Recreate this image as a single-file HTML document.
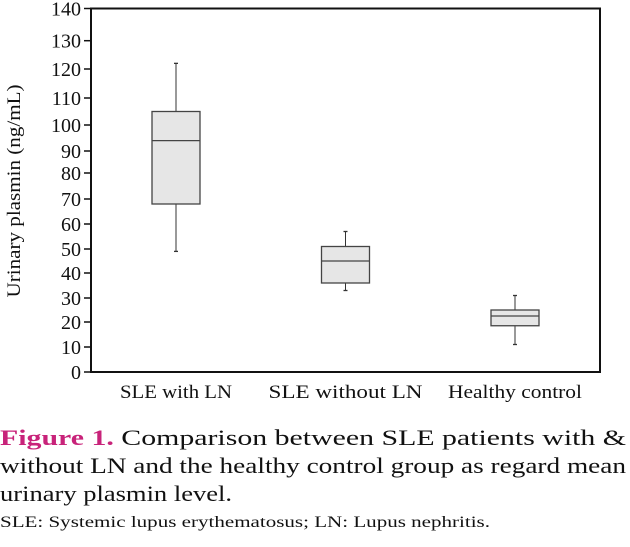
<!DOCTYPE html>
<html><head><meta charset="utf-8"><style>
body{margin:0;width:630px;height:547px;background:#fff;overflow:hidden;font-family:"Liberation Serif",serif;}
.ln{position:absolute;left:0;white-space:nowrap;color:#111;transform-origin:0 0;}
.cap{font-size:22px;}
.cap b{color:#c8237a;}
#foot{font-size:16px;}
</style></head><body>
<svg id="chart" width="630" height="410" style="position:absolute;left:0;top:0" font-family="Liberation Serif, serif"></svg>
<div class="ln cap" data-w="626" style="top:425px"><b>Figure 1.</b> Comparison between SLE patients with &amp;</div>
<div class="ln cap" data-w="626" style="top:453px">without LN and the healthy control group as regard mean</div>
<div class="ln cap" data-w="232" style="top:481px">urinary plasmin level.</div>
<div class="ln" id="foot" data-w="490" style="top:514px">SLE: Systemic lupus erythematosus; LN: Lupus nephritis.</div>
<script>
const categories=["SLE with LN","SLE without LN","Healthy control"];
const whiskerMax=[122,57,31];
const q3=[105,51,25];
const median=[94,45,22.5];
const q1=[68,36,18.5];
const whiskerMin=[49,33,11];
const tickLabels=[0,10,20,30,40,50,60,70,80,90,100,110,120,130,140];
// axis calibration (the source image has a non-uniform vertical scale)
const calV=[0,10,20,30,40,50,60,70,80,90,100,110,120,130,140];
const calY=[372,347,322,298,273,249,224,199,173,151,125,98,69,40.7,8.5];
function y(v){for(let i=0;i<calV.length-1;i++){if(v<=calV[i+1]){const t=(v-calV[i])/(calV[i+1]-calV[i]);return calY[i]+t*(calY[i+1]-calY[i]);}}return calY[calY.length-1];}
const L=91,R=600;
function x(i){return 176+i*169.5;}
const labW=[112,154,134];
const NS="http://www.w3.org/2000/svg",svg=document.getElementById('chart');
function el(t,a,p){const e=document.createElementNS(NS,t);for(const k in a)e.setAttribute(k,a[k]);(p||svg).appendChild(e);return e;}
const fr=el('rect',{x:L,y:y(140),width:R-L,height:y(0)-y(140),fill:'none',stroke:'#111','stroke-width':2});


tickLabels.forEach(v=>{
 const tk=el('line',{x1:L-7,x2:L,y1:y(v),y2:y(v),stroke:'#111','stroke-width':1.5});
 
 
 const t=el('text',{x:L-10,y:y(v)+7,'text-anchor':'end','font-size':20,fill:'#111'});
 t.textContent=v;
 
 
});
const yt=el('text',{x:0,y:0,transform:'translate(20,191) rotate(-90)','text-anchor':'middle','font-size':19,fill:'#111',textLength:213,lengthAdjust:'spacingAndGlyphs'});
yt.textContent='Urinary plasmin (ng/mL)';


categories.forEach((c,i)=>{
 const cx=x(i),hw=24;
 const g=el('g',{});
 
 
 el('line',{x1:cx,x2:cx,y1:y(whiskerMax[i]),y2:y(q3[i]),stroke:'#333','stroke-width':1},g);
 el('line',{x1:cx,x2:cx,y1:y(q1[i]),y2:y(whiskerMin[i]),stroke:'#333','stroke-width':1},g);
 el('line',{x1:cx-2,x2:cx+2,y1:y(whiskerMax[i]),y2:y(whiskerMax[i]),stroke:'#333','stroke-width':1.3},g);
 el('line',{x1:cx-2,x2:cx+2,y1:y(whiskerMin[i]),y2:y(whiskerMin[i]),stroke:'#333','stroke-width':1.3},g);
 el('rect',{x:cx-hw,y:y(q3[i]),width:2*hw,height:y(q1[i])-y(q3[i]),fill:'#e6e6e6',stroke:'#444','stroke-width':1.3},g);
 el('line',{x1:cx-hw,x2:cx+hw,y1:y(median[i]),y2:y(median[i]),stroke:'#444','stroke-width':1.3},g);
 const t=el('text',{x:cx,y:398,'text-anchor':'middle','font-size':19,fill:'#111',textLength:labW[i],lengthAdjust:'spacingAndGlyphs'});
 t.textContent=c;
 
 
});
document.querySelectorAll('.ln').forEach(e=>{
 const w=e.getBoundingClientRect().width;
 e.style.transform='scaleX('+(parseFloat(e.dataset.w)/w)+')';
});
</script>
</body></html>
